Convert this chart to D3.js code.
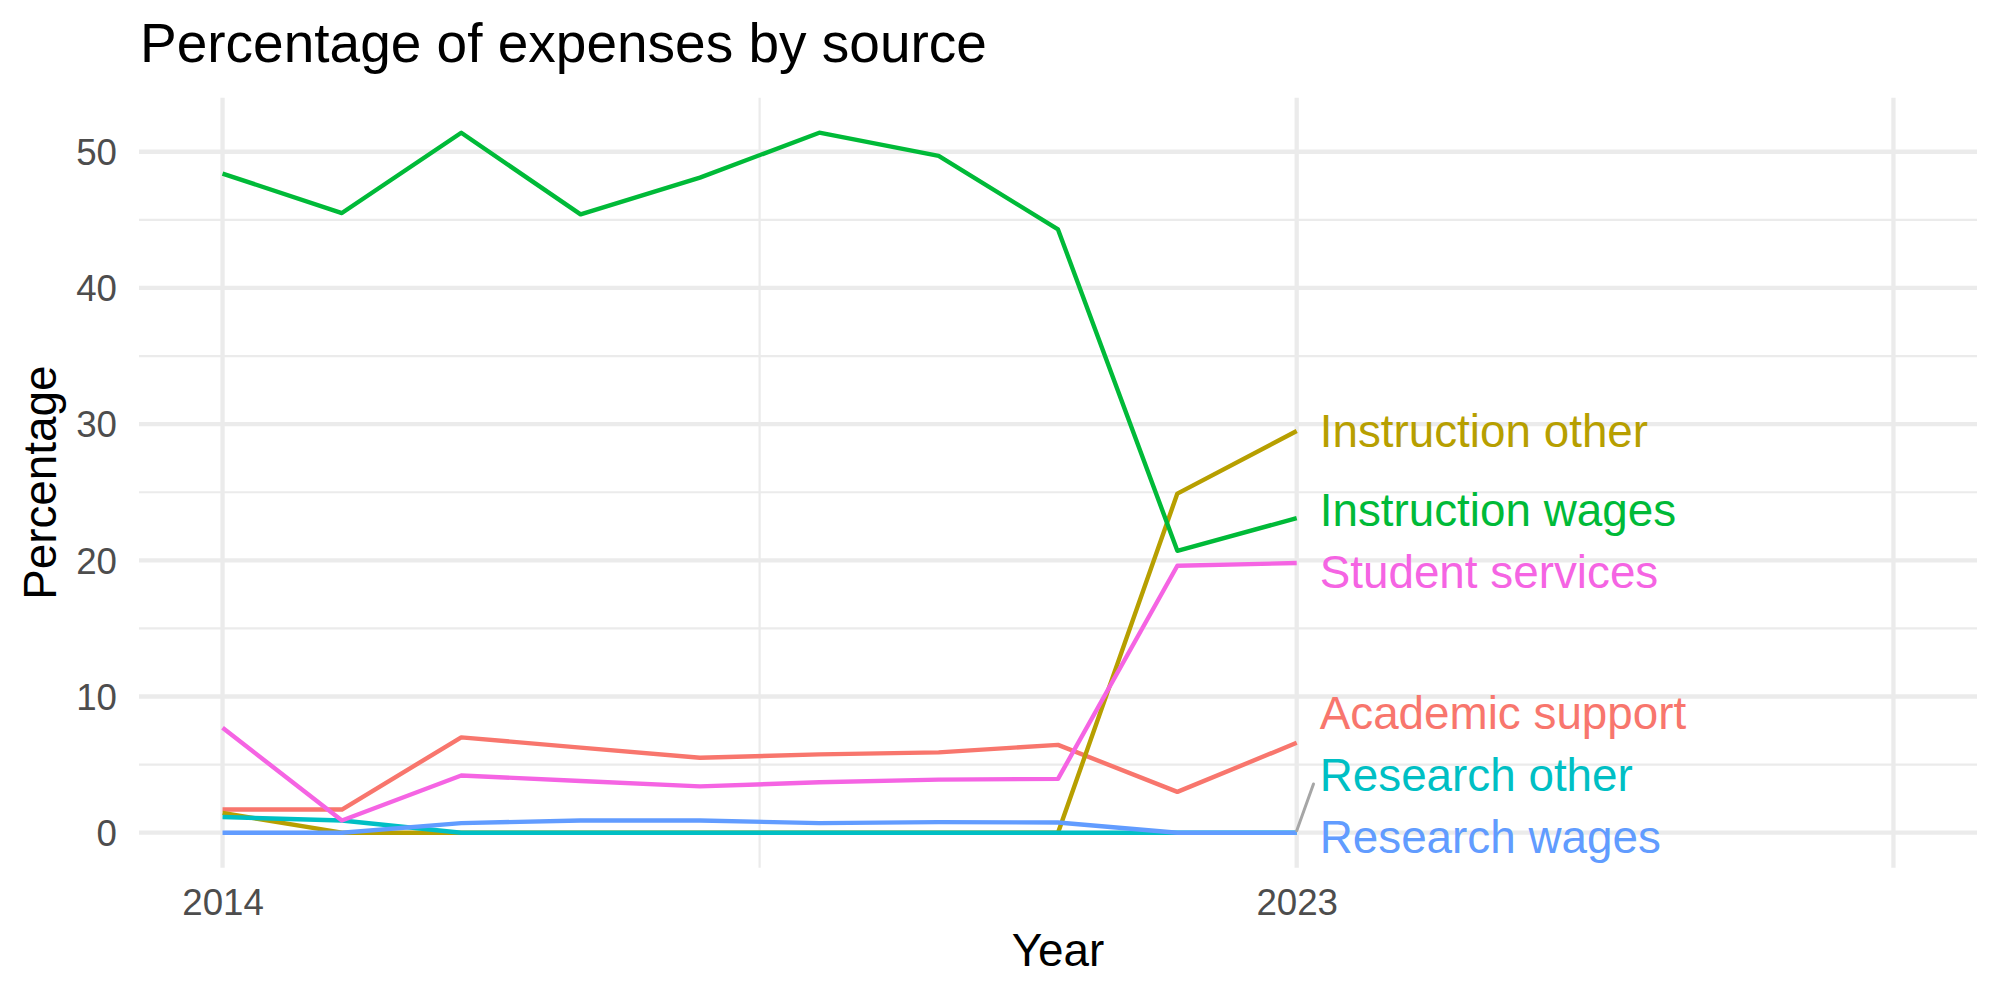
<!DOCTYPE html>
<html>
<head>
<meta charset="utf-8">
<script src="https://cdn.jsdelivr.net/npm/d3@7"></script>
<style>
  body { margin: 0; background: #fff; }
  text { font-family: "Liberation Sans", Arial, Helvetica, sans-serif; }
</style>
</head>
<body>
<svg id="chart" width="2000" height="1000"></svg>
<script>
// data
const years = [2014, 2015, 2016, 2017, 2018, 2019, 2020, 2021, 2022, 2023];
const academicSupport = [1.7, 1.7, 7.0, 6.25, 5.5, 5.75, 5.9, 6.45, 3.0, 6.6];
const instructionOther = [1.45, 0, 0, 0, 0, 0, 0, 0, 24.9, 29.5];
const instructionWages = [48.4, 45.5, 51.4, 45.4, 48.1, 51.4, 49.7, 44.3, 20.7, 23.1];
const researchOther = [1.15, 0.9, 0, 0, 0, 0, 0, 0, 0, 0];
const researchWages = [0, 0, 0.7, 0.9, 0.9, 0.7, 0.78, 0.75, 0, 0];
const studentServices = [7.7, 0.9, 4.2, 3.8, 3.4, 3.7, 3.9, 3.95, 19.6, 19.8];

const seriesNames = ['Academic support', 'Instruction other', 'Instruction wages',
  'Research other', 'Research wages', 'Student services'];
const seriesValues = [academicSupport, instructionOther, instructionWages,
  researchOther, researchWages, studentServices];
const seriesColors = ['#F8766D', '#B79F00', '#00BA38', '#00BFC4', '#619CFF', '#F564E3'];

const xLimits = [2014, 2028];
const xTicks = [2014, 2023];
const xGrid = [2014, 2023, 2028];
const xMinorGrid = [2018.5];
const yTicks = [0, 10, 20, 30, 40, 50];
const yMinorGrid = [5, 15, 25, 35, 45];

const svg = d3.select('#chart');
const panel = { left: 139, right: 1977, top: 97.7, bottom: 867.7 };

// ggplot style 5% expansion
const xPad = (xLimits[1] - xLimits[0]) * 0.05;
const yMax = d3.max(seriesValues, (s) => d3.max(s));
const yPad = yMax * 0.05;

const x = d3.scaleLinear()
	.domain([xLimits[0] - xPad, xLimits[1] + xPad])
	.range([panel.left, panel.right]);
const y = d3.scaleLinear()
	.domain([0 - yPad, yMax + yPad])
	.range([panel.bottom, panel.top]);

// grid
const grid = svg.append('g');
grid.selectAll('.ymin').data(yMinorGrid).enter().append('line')
	.attr('x1', panel.left).attr('x2', panel.right)
	.attr('y1', (d) => y(d)).attr('y2', (d) => y(d))
	.attr('stroke', '#EBEBEB').attr('stroke-width', 2.2);
grid.selectAll('.xmin').data(xMinorGrid).enter().append('line')
	.attr('y1', panel.top).attr('y2', panel.bottom)
	.attr('x1', (d) => x(d)).attr('x2', (d) => x(d))
	.attr('stroke', '#EBEBEB').attr('stroke-width', 2.2);
grid.selectAll('.ymaj').data(yTicks).enter().append('line')
	.attr('x1', panel.left).attr('x2', panel.right)
	.attr('y1', (d) => y(d)).attr('y2', (d) => y(d))
	.attr('stroke', '#EBEBEB').attr('stroke-width', 4.3);
grid.selectAll('.xmaj').data(xGrid).enter().append('line')
	.attr('y1', panel.top).attr('y2', panel.bottom)
	.attr('x1', (d) => x(d)).attr('x2', (d) => x(d))
	.attr('stroke', '#EBEBEB').attr('stroke-width', 4.3);

// axes
const xAxis = svg.append('g')
	.attr('transform', `translate(0,${panel.bottom})`)
	.call(d3.axisBottom(x).tickValues(xTicks).tickFormat(d3.format('d')).tickSize(0));
xAxis.select('.domain').remove();
xAxis.selectAll('text')
	.attr('y', 47.3).attr('dy', 0)
	.attr('font-size', 36.7).attr('fill', '#4D4D4D')
	.style('font-family', '"Liberation Sans", Arial, sans-serif');

const yAxis = svg.append('g')
	.attr('transform', `translate(${panel.left},0)`)
	.call(d3.axisLeft(y).tickValues(yTicks).tickSize(0).tickPadding(22));
yAxis.select('.domain').remove();
yAxis.selectAll('text')
	.attr('dy', '0.35em')
	.attr('font-size', 36.7).attr('fill', '#4D4D4D')
	.style('font-family', '"Liberation Sans", Arial, sans-serif');

// lines
const line = d3.line()
	.x((d, i) => x(years[i]))
	.y((d) => y(d));

svg.append('g').selectAll('path')
	.data(seriesValues)
	.enter().append('path')
		.attr('d', line)
		.attr('fill', 'none')
		.attr('stroke', (d, i) => seriesColors[i])
		.attr('stroke-width', 4.4)
		.attr('stroke-linejoin', 'round');

// end labels, pushed apart like ggrepel
const labelH = 62;
const last = years.length - 1;
const labels = seriesNames.map((name, i) => ({
	name,
	color: seriesColors[i],
	py: y(seriesValues[i][last]),
	ly: y(seriesValues[i][last]),
	order: i,
}));
labels.sort((a, b) => a.py - b.py || a.order - b.order);
for (let iter = 0; iter < 300; iter++) {
	for (let i = 0; i < labels.length; i++) {
		for (let j = i + 1; j < labels.length; j++) {
			const gap = labels[j].ly - labels[i].ly;
			if (gap < labelH) {
				const push = (labelH - gap) / 2;
				labels[i].ly -= push;
				labels[j].ly += push;
			}
		}
	}
	labels.forEach((l) => {
		l.ly = Math.max(panel.top + labelH / 2, Math.min(panel.bottom - labelH / 2, l.ly));
	});
}

const px = x(years[last]);
const textX = px + 23;
labels.forEach((l) => {
	const dy = Math.abs(l.ly - l.py) - 25;
	if (dy > 20) {
		const vx = textX - px;
		const vy = l.ly - l.py;
		svg.append('line')
			.attr('x1', px).attr('y1', l.py - 2)
			.attr('x2', px + vx * 0.73).attr('y2', l.py + vy * 0.84)
			.attr('stroke', '#A6A6A6').attr('stroke-width', 3)
			.attr('stroke-linecap', 'round');
	}
});

svg.append('g').selectAll('text')
	.data(labels)
	.enter().append('text')
		.attr('x', textX)
		.attr('y', (d) => d.ly)
		.attr('dy', '0.35em')
		.attr('font-size', 45.8)
		.attr('fill', (d) => d.color)
		.text((d) => d.name);

// titles
svg.append('text')
	.attr('x', 140).attr('y', 62)
	.attr('font-size', 55)
	.attr('fill', '#000')
	.text('Percentage of expenses by source');

svg.append('text')
	.attr('x', (panel.left + panel.right) / 2).attr('y', 966)
	.attr('text-anchor', 'middle')
	.attr('font-size', 45.8)
	.text('Year');

svg.append('text')
	.attr('transform', `translate(56,${(panel.top + panel.bottom) / 2}) rotate(-90)`)
	.attr('text-anchor', 'middle')
	.attr('font-size', 45.8)
	.text('Percentage');
</script>
</body>
</html>
